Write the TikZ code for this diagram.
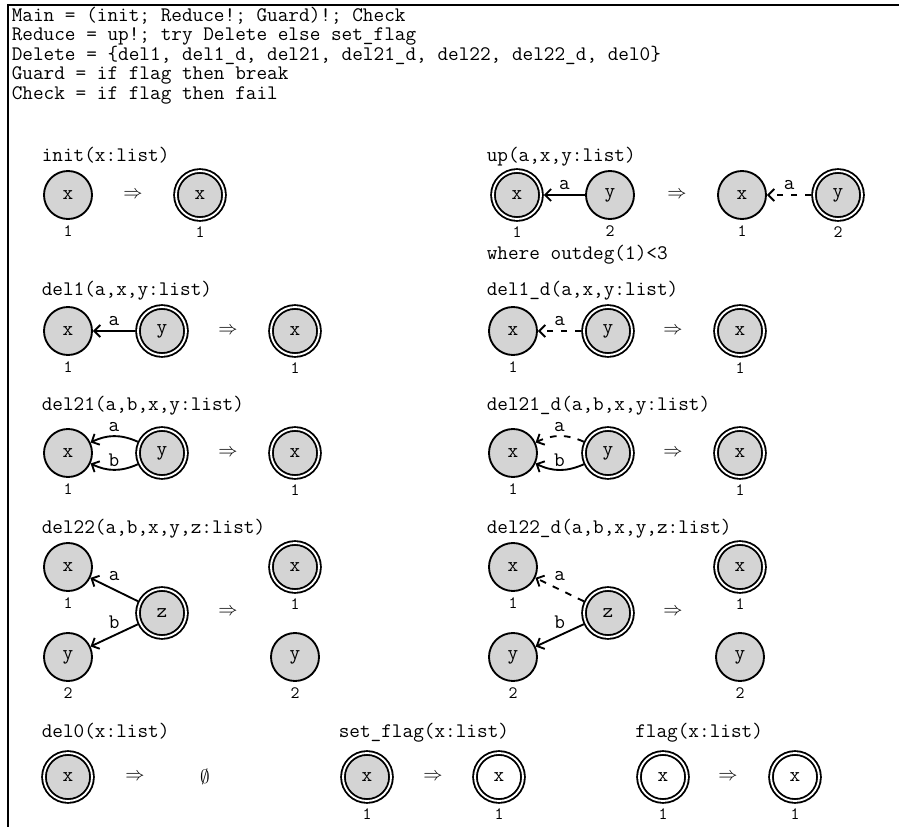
\documentclass[tikz,border=0pt]{standalone}
\usepackage{fontspec}
\usetikzlibrary{arrows.meta}
\definecolor{vfill}{gray}{0.83}
\newcommand{\ttf}{\ttfamily\fontsize{15.5}{16}\selectfont}
\newcommand{\idxf}{\ttfamily\fontsize{13}{14}\selectfont}
\tikzset{
    vtx/.style={circle, draw, fill=vfill, line width=1.4pt, minimum size=36pt, inner sep=0pt},
    dvtx/.style={vtx, double, double distance=1.4pt, outer sep=2.1pt, label distance=0.4pt},
    wvtx/.style={dvtx, fill=white},
    lnk/.style={line width=1.4pt, -{Straight Barb[length=4.5pt,width=9pt]}},
    dlnk/.style={lnk, dash pattern=on 5pt off 5.5pt},
    lbl/.style={inner sep=2pt},
    rul/.style={anchor=base west, inner sep=0pt},
    every label/.style={inner sep=2pt, font=\idxf}
}
\begin{document}
\begin{tikzpicture}[x=0.75pt, y=-0.75pt, font=\ttf, label distance=1.8pt]
    \useasboundingbox (0,0) rectangle (899,827);
    \draw[line width=1.5pt] (7.8,827) -- (7.8,5.5) -- (899,5.5);
    % program
    \node[rul] (prg1) at (11.5,21.5) {Main = (init; Reduce!; Guard)!; Check};
    \node[rul] (prg2) at (11.5,41) {Reduce = up!; try Delete else set\_flag};
    \node[rul] (prg3) at (11.5,60.5) {Delete = \{del1, del1\_d, del21, del21\_d, del22, del22\_d, del0\}};
    \node[rul] (prg4) at (11.5,80) {Guard = if flag then break};
    \node[rul] (prg5) at (11.5,99.5) {Check = if flag then fail};
    % init
    \node[rul] (tinit) at (41.5,162) {init(x:list)};
    \node[vtx, label=below:1] (ix) at (68,195) {x};
    \node (iimp) at (133,195) {$\Rightarrow$};
    \node[dvtx, label=below:1] (ixr) at (200,195) {x};
    % up
    \node[rul] (tup) at (486.5,162) {up(a,x,y:list)};
    \node[dvtx, label=below:1] (ux) at (517,195) {x};
    \node[vtx, label=below:2] (uy) at (610,195) {y};
    \node (uimp) at (677,195) {$\Rightarrow$};
    \node[vtx, label=below:1] (uxr) at (742,195) {x};
    \node[dvtx, label=below:2] (uyr) at (838,195) {y};
    \draw[lnk] (uy) -- node[lbl, above=1.5pt] {a} (ux);
    \draw[dlnk] (uyr) -- node[lbl, above=1.5pt] {a} (uxr);
    \node[rul] (uwhere) at (486.5,259) {where outdeg(1)<3};
    % del1
    \node[rul] (tdela) at (41.5,296) {del1(a,x,y:list)};
    \node[vtx, label=below:1] (ax) at (68,331) {x};
    \node[dvtx] (ay) at (162,331) {y};
    \node (aimp) at (228,331) {$\Rightarrow$};
    \node[dvtx, label=below:1] (axr) at (295,331) {x};
    \draw[lnk] (ay) -- node[lbl, above=1.5pt] {a} (ax);
    % del1_d
    \node[rul] (tdelb) at (486.5,296) {del1\_d(a,x,y:list)};
    \node[vtx, label=below:1] (bx) at (513,331) {x};
    \node[dvtx] (by) at (608,331) {y};
    \node (bimp) at (673,331) {$\Rightarrow$};
    \node[dvtx, label=below:1] (bxr) at (740,331) {x};
    \draw[dlnk] (by) -- node[lbl, above=1.5pt] {a} (bx);
    % del21
    \node[rul] (tdelc) at (41.5,410.5) {del21(a,b,x,y:list)};
    \node[vtx, label=below:1] (cx) at (68,453) {x};
    \node[dvtx] (cy) at (162,453) {y};
    \node (cimp) at (228,453) {$\Rightarrow$};
    \node[dvtx, label=below:1] (cxr) at (295,453) {x};
    \draw[lnk] (cy) to[bend right=25] node[lbl, above=0.8pt] {a} (cx);
    \draw[lnk] (cy) to[bend left=25] node[lbl, above] {b} (cx);
    % del21_d
    \node[rul] (tdeld) at (486.5,410.5) {del21\_d(a,b,x,y:list)};
    \node[vtx, label=below:1] (dx) at (513,453) {x};
    \node[dvtx] (dy) at (608,453) {y};
    \node (dimp) at (673,453) {$\Rightarrow$};
    \node[dvtx, label=below:1] (dxr) at (740,453) {x};
    \draw[dlnk] (dy) to[bend right=25] node[lbl, above=0.8pt] {a} (dx);
    \draw[lnk] (dy) to[bend left=25] node[lbl, above] {b} (dx);
    % del22
    \node[rul] (tdele) at (41.5,533) {del22(a,b,x,y,z:list)};
    \node[vtx, label=below:1] (ex) at (68,567) {x};
    \node[dvtx] (ez) at (162,613) {z};
    \node[vtx, label=below:2] (ey) at (68,657) {y};
    \node (eimp) at (228,612) {$\Rightarrow$};
    \node[dvtx, label=below:1] (exr) at (295,567) {x};
    \node[vtx, label=below:2] (eyr) at (295,657) {y};
    \draw[lnk] (ez) -- node[lbl, above=4pt] {a} (ex);
    \draw[lnk] (ez) -- node[lbl, above=2.5pt] {b} (ey);
    % del22_d
    \node[rul] (tdelf) at (486.5,533) {del22\_d(a,b,x,y,z:list)};
    \node[vtx, label=below:1] (fx) at (513,567) {x};
    \node[dvtx] (fz) at (608,613) {z};
    \node[vtx, label=below:2] (fy) at (513,657) {y};
    \node (fimp) at (673,612) {$\Rightarrow$};
    \node[dvtx, label=below:1] (fxr) at (740,567) {x};
    \node[vtx, label=below:2] (fyr) at (740,657) {y};
    \draw[dlnk] (fz) -- node[lbl, above=4pt] {a} (fx);
    \draw[lnk] (fz) -- node[lbl, above=2.5pt] {b} (fy);
    % del0
    \node[rul] (tdelz) at (41.5,737) {del0(x:list)};
    \node[dvtx] (zx) at (68,777) {x};
    \node (zimp) at (135,777) {$\Rightarrow$};
    \node (zempty) at (205,777) {$\emptyset$};
    % set_flag
    \node[rul] (tset) at (338.5,737) {set\_flag(x:list)};
    \node[dvtx, label=below:1] (sx) at (367,777) {x};
    \node (simp) at (433,777) {$\Rightarrow$};
    \node[wvtx, label=below:1] (sxr) at (499,777) {x};
    % flag
    \node[rul] (tflag) at (635,737) {flag(x:list)};
    \node[wvtx, label=below:1] (gx) at (663,777) {x};
    \node (gimp) at (728,777) {$\Rightarrow$};
    \node[wvtx, label=below:1] (gxr) at (795,777) {x};
\end{tikzpicture}
\end{document}
